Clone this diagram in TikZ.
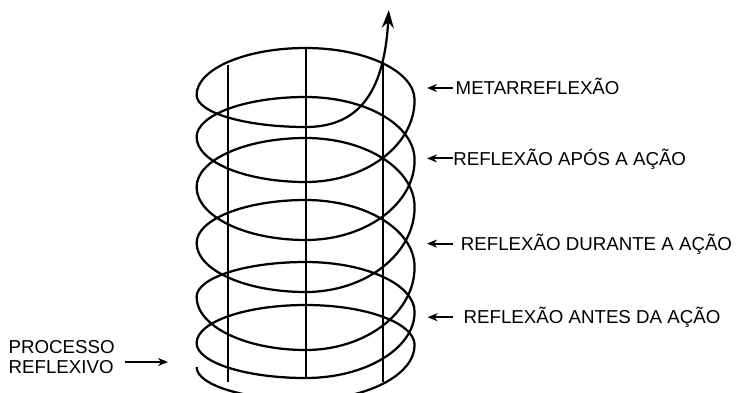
\documentclass[tikz,border=0pt]{standalone}
\usepackage{fontspec}
\setmainfont{Liberation Sans}
\usetikzlibrary{positioning,arrows.meta}

\begin{document}
\begin{tikzpicture}[>=Stealth,
   helix/.style={line width=1.6pt},
   rod/.style={line width=1.1pt},
   lbl/.style={inner sep=0pt,text height=9.5pt,text depth=0pt,
     font=\fontsize{13.3}{16}\selectfont},
   tag/.style={<-,line width=1.3pt,>={Stealth[length=0.25cm,width=0.2cm]}}]
  \useasboundingbox (0,0) rectangle (18.425,9.8);
  \clip (0,0) rectangle (18.425,9.8);
  % vertical rods
  \foreach \xr/\yt/\yb in {5.7/8.175/0.25, 7.65/8.6/0.35, 9.575/8.3/0.25}
    \draw[rod] (\xr,\yt) -- (\xr,\yb);
  % spiral, bottom to top
  \draw[helix,-{Stealth[length=0.45cm,width=0.3cm]}] (4.915,0.625)
     arc[start angle=180,end angle=270,x radius=2.725,y radius=0.825]
     \foreach \fr/\rb/\bl/\lf in {1.375/1.0/0.95/0.875, 1.65/1.25/0.875/1.325,
        2.075/1.675/1.075/1.225, 2.125/1.725/1.225/1.325,
        2.0/1.575/1.0/1.125, 2.05/1.3/1.175/0.8}{
       arc[start angle=270,end angle=360,x radius=2.725,y radius=\fr]
       arc[start angle=0,end angle=90,x radius=2.725,y radius=\rb]
       arc[start angle=90,end angle=180,x radius=2.725,y radius=\bl]
       arc[start angle=180,end angle=270,x radius=2.725,y radius=\lf]}
     .. controls (8.9,6.625) and (9.6,7.4) .. (9.72,9.55);
  % labels
  \coordinate (tip1) at (10.675,7.6);
  \coordinate (tail1) at (11.325,7.6);
  \coordinate (tip2) at (10.675,5.84);
  \coordinate (tail2) at (11.325,5.84);
  \coordinate (tip3) at (10.675,3.71);
  \coordinate (tail3) at (11.325,3.71);
  \coordinate (tip4) at (10.69,1.87);
  \coordinate (tail4) at (11.325,1.87);
  \node[lbl,right=0.06cm of tail1] (meta) {METARREFLEXÃO};
  \node[lbl,right=0cm of tail2] (apos) {REFLEXÃO APÓS A AÇÃO};
  \node[lbl,right=0.19cm of tail3] (durante) {REFLEXÃO DURANTE A AÇÃO};
  \node[lbl,right=0.26cm of tail4] (antes) {REFLEXÃO ANTES DA AÇÃO};
  \foreach \i in {1,...,4}
    \draw[tag] (tip\i) -- (tail\i);
  \node[lbl,anchor=west] (proc) at (0.21,1.1375) {PROCESSO};
  \node[lbl,below=0.165cm of proc.south west,anchor=north west] (refl) {REFLEXIVO};
  \coordinate (pin) at (4.2,0.75);
  \coordinate (pout) at (3.125,0.75);
  \draw[tag] (pin) -- (pout);
\end{tikzpicture}
\end{document}
